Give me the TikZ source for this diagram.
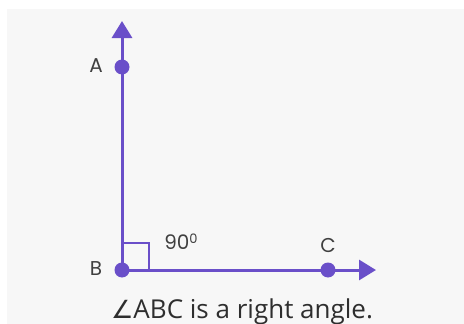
\documentclass[tikz,border=0pt]{standalone}
\usepackage{fontspec}
\setmainfont{Open Sans}
\newfontfamily\lblfont{Poppins}
\newfontfamily\symfont{DejaVu Sans}
\usetikzlibrary{arrows.meta}
\definecolor{purp}{HTML}{6A4FC9}
\definecolor{lbl}{HTML}{404040}
\definecolor{cap}{HTML}{2E2E2E}
\definecolor{panel}{HTML}{F7F7F7}
\begin{document}
\begin{tikzpicture}[x=1pt,y=-1pt,
  dot/.style={circle,fill=purp,inner sep=0pt,minimum size=15pt},
  ray/.style={purp,line width=3pt,-{Triangle[length=17pt,width=20pt]}},
  ptlabel/.style={text=lbl,font=\lblfont\fontsize{20}{20}\selectfont,inner sep=0pt},
  caption/.style={text=cap,font=\fontsize{26}{26}\selectfont,inner sep=0pt,anchor=base}]
\useasboundingbox (0,0) rectangle (464,324);
\fill[white] (0,0) rectangle (464,324);
\fill[panel] (7,9) rectangle (464,324);
\coordinate (tipA) at (122,21);
\coordinate (tipC) at (376,270);
\draw[ray] (122,270) -- (tipA);
\draw[ray] (122,270) -- (tipC);
\draw[purp,line width=2.6pt] (122,243) -- (149,243) -- (149,270);
\node[dot] (A) at (122,67) {};
\node[dot] (B) at (122,270) {};
\node[dot] (C) at (328,270) {};
\node[ptlabel] (lA) at (96,66) {A};
\node[ptlabel] (lB) at (96,269) {B};
\node[ptlabel] (lC) at (328,245) {C};
\node[ptlabel] (l90) at (181,242) {90\raisebox{0.55ex}{\fontsize{13}{13}\selectfont 0}};
\node[caption] (capt) at (242,318) {{\symfont\fontsize{25}{25}\selectfont ∠}ABC is a right angle.};
\end{tikzpicture}
\end{document}
